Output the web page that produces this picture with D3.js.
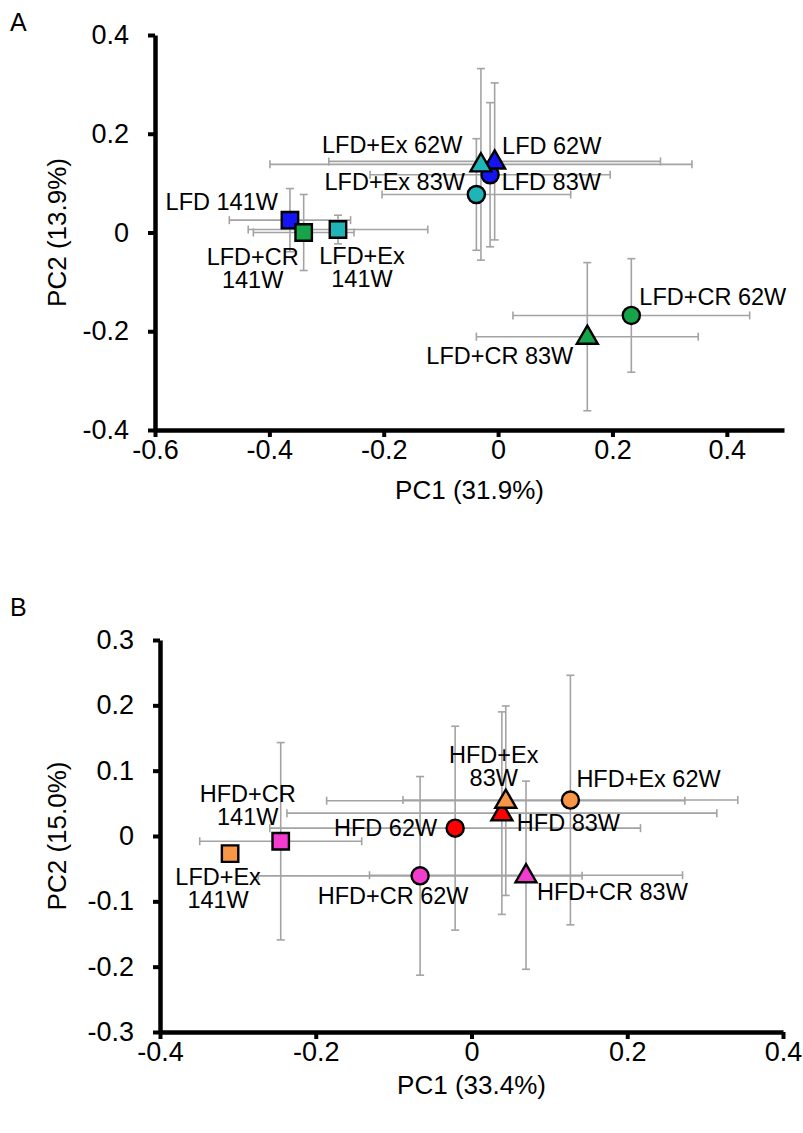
<!DOCTYPE html>
<html><head><meta charset="utf-8">
<script src="https://cdn.jsdelivr.net/npm/d3@7"></script>
<style>
body{margin:0;background:#fff}
svg{display:block}
text{font-family:"Liberation Sans",Arial,Helvetica,sans-serif;fill:#000}
</style>
</head><body>
<svg id="c" width="803" height="1133"></svg>
<script>
// ---------- Panel A data ----------
const groupsA = ["LFD 62W","LFD 83W","LFD 141W","LFD+CR 62W","LFD+CR 83W","LFD+CR 141W","LFD+Ex 62W","LFD+Ex 83W","LFD+Ex 141W"];
const dietA   = ["LFD","LFD","LFD","LFD+CR","LFD+CR","LFD+CR","LFD+Ex","LFD+Ex","LFD+Ex"];
const weekA   = ["62W","83W","141W","62W","83W","141W","62W","83W","141W"];
const pc1A    = [-0.014,-0.006,-0.364, 0.233, 0.156,-0.340,-0.038,-0.030,-0.280];
const pc2A    = [ 0.117, 0.144, 0.025,-0.168,-0.211, 0.000, 0.077, 0.138, 0.006];
const errPc1A = [ 0.210, 0.290, 0.106, 0.207, 0.194, 0.088, 0.165, 0.369, 0.157];
const errPc2A = [ 0.146, 0.159, 0.064, 0.115, 0.150, 0.077, 0.113, 0.194, 0.029];
const xTicksA = [-0.6,-0.4,-0.2,0,0.2,0.4];
const yTicksA = [-0.4,-0.2,0,0.2,0.4];

// ---------- Panel B data ----------
const groupsB = ["HFD 62W","HFD 83W","HFD+CR 62W","HFD+CR 83W","HFD+CR 141W","HFD+Ex 62W","HFD+Ex 83W","LFD+Ex 141W"];
const dietB   = ["HFD","HFD","HFD+CR","HFD+CR","HFD+CR","HFD+Ex","HFD+Ex","HFD+Ex"];
const weekB   = ["62W","83W","62W","83W","141W","62W","83W","141W"];
const pc1B    = [-0.021, 0.039,-0.066, 0.070,-0.245, 0.127, 0.044,-0.310];
const pc2B    = [ 0.012, 0.035,-0.061,-0.060,-0.008, 0.055, 0.054,-0.027];
const errPc1B = [ 0.238, 0.276, 0.208, 0.201, 0.104, 0.215, 0.230, 0.000];
const errPc2B = [ 0.156, 0.155, 0.152, 0.144, 0.151, 0.191, 0.145, 0.000];
const xTicksB = [-0.4,-0.2,0,0.2,0.4];
const yTicksB = [-0.3,-0.2,-0.1,0,0.1,0.2,0.3];

// ---------- styling / layout ----------
const dietColor = d3.scaleOrdinal()
  .domain(["LFD","LFD+CR","LFD+Ex","HFD","HFD+CR","HFD+Ex"])
  .range(["#1414f5","#17a34a","#1fb5b8","#ff0000","#f23ccf","#f79646"]);
const weekShape = d3.scaleOrdinal()
  .domain(["62W","83W","141W"])
  .range(["circle","triangle","square"]);

// label placement: [dx, dy, anchor] relative to marker (px)
const labelLayoutA = {
  "LFD 62W":[12,-21,"start"], "LFD 83W":[7,29,"start"], "LFD 141W":[-12,-10,"end"],
  "LFD+CR 62W":[8,-10,"start"], "LFD+CR 83W":[-14,27,"end"], "LFD+CR 141W":[-51,32,"middle"],
  "LFD+Ex 62W":[-14,-41,"end"], "LFD+Ex 83W":[-16,26,"end"], "LFD+Ex 141W":[24,34,"middle"]
};
const labelLayoutB = {
  "HFD 62W":[-18,8,"end"], "HFD 83W":[15,18,"start"], "HFD+CR 62W":[-27,28,"middle"],
  "HFD+CR 83W":[11,25,"start"], "HFD+CR 141W":[-33,-39,"middle"], "HFD+Ex 62W":[6,-13,"start"],
  "HFD+Ex 83W":[-12,-38,"middle"], "LFD+Ex 141W":[-12,31,"middle"]
};
const twoLine = new Set(["LFD+CR 141W","LFD+Ex 141W","HFD+CR 141W","HFD+Ex 83W"]);

const svg = d3.select("#c");
const fmt = d => String(Math.round(d*10)/10);

function panel(cfg){
  const g = svg.append("g");
  const x = d3.scaleLinear().domain(cfg.xDomain).range(cfg.xRange);
  const y = d3.scaleLinear().domain(cfg.yDomain).range(cfg.yRange);

  const rows = cfg.groups.map((name,i)=>({name, diet:cfg.diet[i], week:cfg.week[i],
    px:cfg.pc1[i], py:cfg.pc2[i], ex:cfg.ex[i], ey:cfg.ey[i]}));

  // error bars
  const eb = g.append("g").attr("stroke","#a3a3a3").attr("stroke-width",1.6).attr("fill","none");
  const cap = 4;
  rows.forEach(r=>{
    if(r.ex>0){
      const x0=x(r.px-r.ex), x1=x(r.px+r.ex), yy=y(r.py);
      eb.append("line").attr("x1",x0).attr("x2",x1).attr("y1",yy).attr("y2",yy);
      eb.append("line").attr("x1",x0).attr("x2",x0).attr("y1",yy-cap).attr("y2",yy+cap);
      eb.append("line").attr("x1",x1).attr("x2",x1).attr("y1",yy-cap).attr("y2",yy+cap);
    }
    if(r.ey>0){
      const y0=y(r.py-r.ey), y1=y(r.py+r.ey), xx=x(r.px);
      eb.append("line").attr("x1",xx).attr("x2",xx).attr("y1",y0).attr("y2",y1);
      eb.append("line").attr("x1",xx-cap).attr("x2",xx+cap).attr("y1",y0).attr("y2",y0);
      eb.append("line").attr("x1",xx-cap).attr("x2",xx+cap).attr("y1",y1).attr("y2",y1);
    }
  });

  // axes
  const ax = g.append("g").attr("transform",`translate(0,${cfg.yRange[0]})`)
    .call(d3.axisBottom(x).tickValues(cfg.xTicks).tickFormat(fmt).tickSizeOuter(0).tickSizeInner(7).tickPadding(3));
  const ay = g.append("g").attr("transform",`translate(${cfg.xRange[0]},0)`)
    .call(d3.axisLeft(y).tickValues(cfg.yTicks).tickFormat(fmt).tickSizeOuter(0).tickSizeInner(7).tickPadding(19));
  [ax,ay].forEach(a=>{
    a.select(".domain").attr("stroke","#000").attr("stroke-width",4.5);
    a.selectAll(".tick line").attr("stroke","#000").attr("stroke-width",4);
    a.selectAll(".tick text").style("font-size","27px").attr("fill","#000")
      .style("font-family",'"Liberation Sans",Arial,sans-serif');
  });

  // markers
  const sym = {circle:d3.symbolCircle, triangle:d3.symbolTriangle, square:d3.symbolSquare};
  const area = {circle:230, triangle:190, square:270};
  g.append("g").selectAll("path").data(rows).join("path")
    .attr("transform",r=>`translate(${x(r.px)},${y(r.py)+(weekShape(r.week)==="triangle"?1:0)})`)
    .attr("d",r=>d3.symbol(sym[weekShape(r.week)], area[weekShape(r.week)])())
    .attr("fill",r=>dietColor(r.diet)).attr("stroke","#000").attr("stroke-width",2.4);

  // point labels
  const lg = g.append("g").style("font-size","23.5px");
  rows.forEach(r=>{
    const L = cfg.layout[r.name];
    const t = lg.append("text").attr("text-anchor",L[2])
      .attr("x",x(r.px)+L[0]).attr("y",y(r.py)+L[1]);
    if(twoLine.has(r.name)){
      const parts = r.name.split(" ");
      t.append("tspan").attr("x",x(r.px)+L[0]).text(parts[0]);
      t.append("tspan").attr("x",x(r.px)+L[0]).attr("dy",23).text(parts[1]);
    } else t.text(r.name);
  });

  // axis titles
  g.append("text").attr("x",(cfg.xRange[0]+cfg.xRange[1])/2).attr("y",cfg.yRange[0]+cfg.xTitleDy)
    .attr("text-anchor","middle").style("font-size","26px").text(cfg.xTitle);
  g.append("text").attr("transform",`translate(66,${(cfg.yRange[0]+cfg.yRange[1])/2}) rotate(-90)`)
    .attr("text-anchor","middle").style("font-size","26px").text(cfg.yTitle);
  g.append("text").attr("x",10).attr("y",cfg.letterY).style("font-size","25px").text(cfg.letter);
}

panel({groups:groupsA, diet:dietA, week:weekA, pc1:pc1A, pc2:pc2A, ex:errPc1A, ey:errPc2A,
  xDomain:[-0.6,0.5], xRange:[155,784], yDomain:[-0.4,0.4], yRange:[430,35],
  xTicks:xTicksA, yTicks:yTicksA, layout:labelLayoutA,
  xTitle:"PC1 (31.9%)", yTitle:"PC2 (13.9%)", xTitleDy:69, letter:"A", letterY:31});

panel({groups:groupsB, diet:dietB, week:weekB, pc1:pc1B, pc2:pc2B, ex:errPc1B, ey:errPc2B,
  xDomain:[-0.4,0.4], xRange:[160,783], yDomain:[-0.3,0.3], yRange:[1032,640],
  xTicks:xTicksB, yTicks:yTicksB, layout:labelLayoutB,
  xTitle:"PC1 (33.4%)", yTitle:"PC2 (15.0%)", xTitleDy:62, letter:"B", letterY:616});
</script>
</body></html>
